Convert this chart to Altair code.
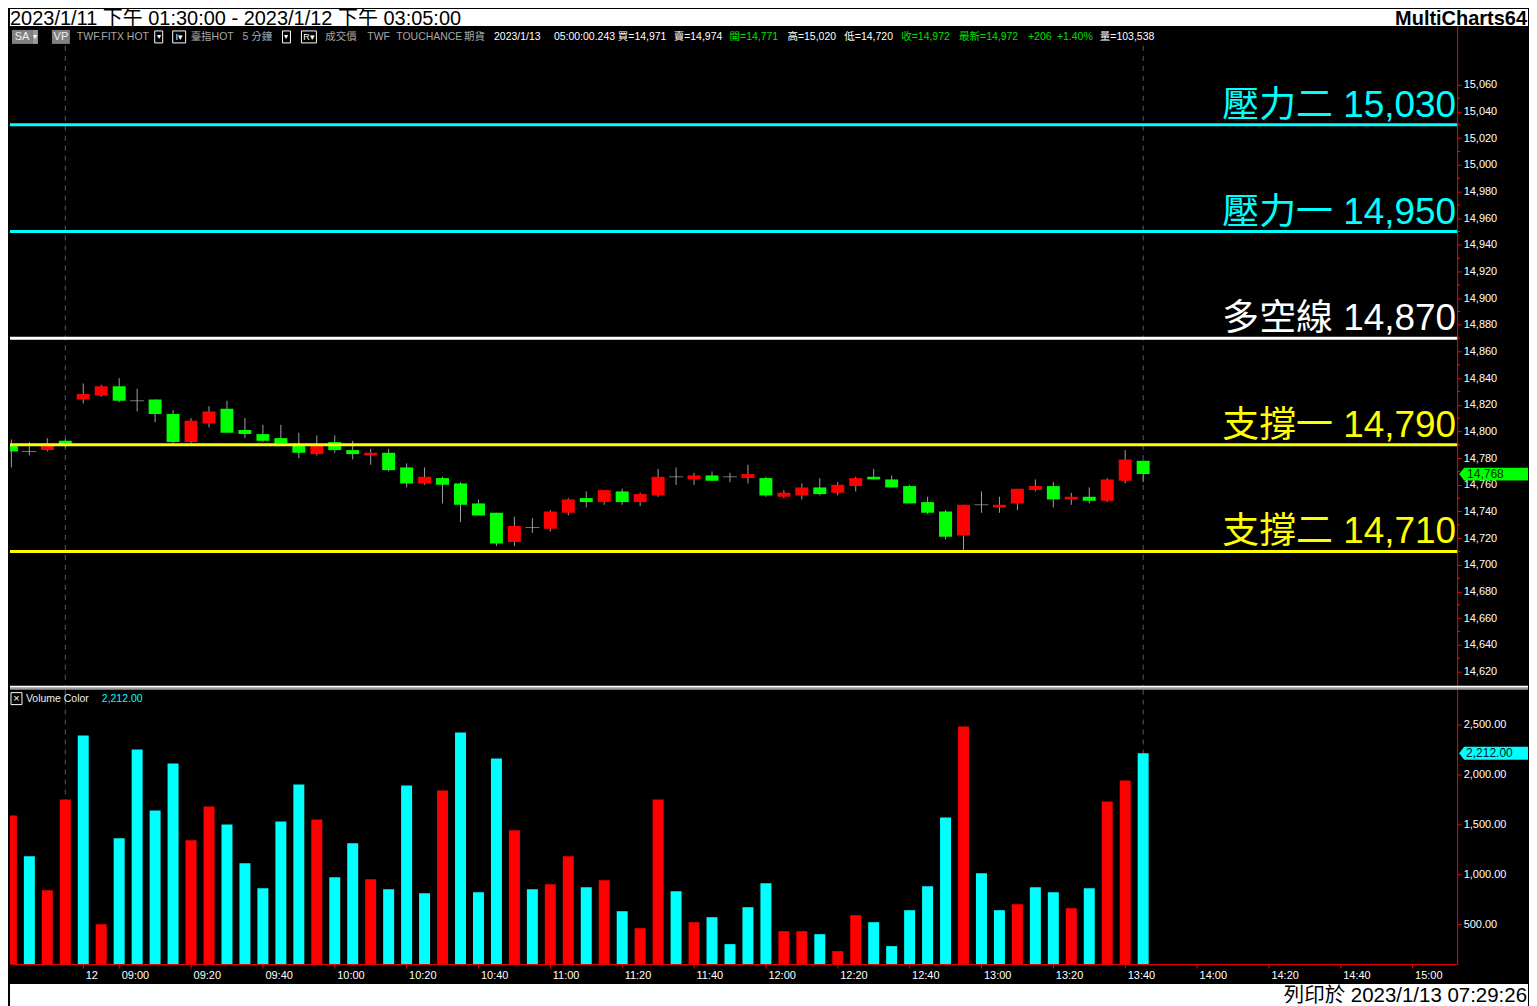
import altair as alt
import pandas as pd

# ---------------- data ----------------
opens = [14790, 14785, 14786, 14793, 14824, 14827, 14834, 14823, 14824, 14813,
         14792, 14806, 14817, 14801, 14798, 14795, 14790, 14783, 14792, 14786,
         14782, 14784, 14773, 14761, 14765, 14761, 14746, 14739, 14717, 14728,
         14727, 14739, 14750, 14747, 14755, 14747, 14752, 14766, 14764, 14767,
         14766, 14765, 14765, 14751, 14752, 14758, 14754, 14759, 14766, 14764,
         14759, 14747, 14740, 14722, 14745, 14743, 14746, 14756, 14759, 14749,
         14751, 14748, 14763, 14778]
highs = [14794, 14792, 14795, 14794, 14836, 14835, 14840, 14832, 14824, 14816,
         14810, 14819, 14823, 14810, 14805, 14805, 14799, 14797, 14797, 14793,
         14787, 14787, 14776, 14773, 14766, 14762, 14749, 14739, 14736, 14735,
         14741, 14750, 14755, 14756, 14757, 14754, 14772, 14773, 14769, 14770,
         14769, 14775, 14766, 14756, 14761, 14765, 14762, 14766, 14772, 14767,
         14760, 14751, 14741, 14745, 14755, 14751, 14757, 14764, 14762, 14754,
         14758, 14765, 14786, 14778]
lows = [14773, 14782, 14785, 14788, 14821, 14826, 14822, 14815, 14807, 14791,
        14791, 14803, 14799, 14795, 14792, 14790, 14780, 14782, 14784, 14779,
        14775, 14770, 14758, 14760, 14746, 14732, 14737, 14714, 14714, 14724,
        14725, 14737, 14743, 14745, 14745, 14744, 14751, 14760, 14760, 14763,
        14762, 14761, 14751, 14750, 14749, 14752, 14752, 14755, 14764, 14758,
        14746, 14738, 14719, 14711, 14739, 14739, 14741, 14755, 14743, 14745,
        14746, 14747, 14761, 14762]
closes = [14785, 14785, 14791, 14789, 14828, 14834, 14823, 14823, 14813, 14792,
          14808, 14815, 14799, 14798, 14793, 14791, 14784, 14790, 14786, 14783,
          14784, 14771, 14761, 14766, 14760, 14745, 14737, 14716, 14729, 14728,
          14740, 14749, 14747, 14756, 14747, 14753, 14766, 14766, 14767, 14763,
          14766, 14768, 14752, 14754, 14758, 14753, 14760, 14765, 14764, 14758,
          14746, 14739, 14721, 14745, 14745, 14745, 14757, 14759, 14749, 14751,
          14748, 14764, 14779, 14768]
volumes = [1590, 1180, 840, 1750, 2390, 500, 1360, 2250, 1640, 2110,
           1340, 1680, 1500, 1110, 860, 1530, 1900, 1550, 970, 1310,
           950, 850, 1890, 810, 1840, 2420, 820, 2160, 1440, 850,
           900, 1180, 870, 940, 630, 460, 1750, 830, 520, 570,
           300, 670, 910, 430, 430, 400, 230, 590, 520, 280,
           640, 880, 1570, 2480, 1010, 640, 700, 870, 820, 660,
           860, 1730, 1940, 2212]
vol_colors = list("RCRRCRCCCC" "RRCCCCCRCC" "RCCCRCCCRC" "RRCRCRRCRC"
                  "CCCRRCRRCC" "CCCRCCRCCR" "CRRC")
tick_idx = [4, 6, 10, 14, 18, 22, 26, 30, 34, 38, 42, 46, 50, 54, 58, 62, 66, 70, 74, 78]
tick_labels = ["12", "09:00", "09:20", "09:40", "10:00", "10:20", "10:40", "11:00",
               "11:20", "11:40", "12:00", "12:20", "12:40", "13:00", "13:20", "13:40",
               "14:00", "14:20", "14:40", "15:00"]
price_ticks = list(range(14620, 15061, 20))
price_minor = list(range(14630, 15061, 20))
vol_ticks = [500, 1000, 1500, 2000, 2500]
level_names = ["壓力二", "壓力一", "多空線", "支撐一", "支撐二"]
level_values = [15030, 14950, 14870, 14790, 14710]
level_colors = ["#00FFFF", "#00FFFF", "#FFFFFF", "#FFFF00", "#FFFF00"]
session_marks = [3, 63]
last_price = 14768
last_volume = 2212

FONT = "Liberation Sans, Noto Sans CJK TC, sans-serif"
W = 1450      # plot width
R = 1521      # right edge of the whole chart

candles = pd.DataFrame({"idx": range(len(opens)), "o": opens, "h": highs,
                        "l": lows, "c": closes})
candles["dir"] = ["up" if c > o else ("down" if c < o else "flat")
                  for o, c in zip(opens, closes)]
vol_df = pd.DataFrame({"idx": range(len(volumes)), "v": volumes, "vc": vol_colors})
lvl_df = pd.DataFrame({"name": level_names, "level": level_values})
lvl_df["label"] = [f"{n} {v:,}" for n, v in zip(level_names, level_values)]
sess_df = pd.DataFrame({"idx": session_marks})

xs = alt.Scale(domain=[-0.0778, 80.478], nice=False, zero=False, padding=0)
ps = alt.Scale(domain=[14609.3, 15104.2], nice=False, zero=False)
vs = alt.Scale(domain=[100, 2890], nice=False, zero=False)

axis_common = dict(title=None, grid=False, domainColor="#FF0000", domainWidth=1,
                   tickColor="#FF0000", tickSize=4, labelColor="#FFFFFF",
                   labelFont=FONT, labelFontSize=11, labelFlush=False,
                   labelOverlap=False)
price_axis = alt.Axis(orient="right", values=price_ticks, format=",d",
                      labelPadding=2, **axis_common)
vol_axis = alt.Axis(orient="right", values=vol_ticks, format=",.2f",
                    labelPadding=2, **axis_common)
label_expr = "".join(f"datum.value == {i} ? '{t}' : " for i, t in zip(tick_idx, tick_labels)) + "''"
x_axis = alt.Axis(orient="bottom", values=tick_idx, labelExpr=label_expr,
                  labelAlign="left", labelPadding=1, labelOffset=2, **axis_common)
X = alt.X("idx:Q", scale=xs, axis=None)
XV = alt.X("idx:Q", scale=xs, axis=x_axis)


def label(text, x, y, color, size=11, align="left", baseline="middle", weight="normal"):
    return alt.Chart(pd.DataFrame({"t": [text]})).mark_text(
        align=align, baseline=baseline, fontSize=size, fontWeight=weight,
        font=FONT, color=color).encode(x=alt.value(x), y=alt.value(y), text="t:N")


def box(x1, x2, y1, y2, fill, stroke="#000000", sw=0):
    return alt.Chart(pd.DataFrame({"a": [0]})).mark_rect(
        fill=fill, stroke=stroke, strokeWidth=sw).encode(
        x=alt.value(x1), x2=alt.value(x2), y=alt.value(y1), y2=alt.value(y2))


# value tag: arrow on the left, 69 px wide, 13 px tall
TAG = "M-1,0L-0.855,-0.188L1,-0.188L1,0.188L-0.855,0.188Z"
TAG_X, TAG_SIZE = (W + 2 + R) / 2, (R - W - 2) ** 2

# ---------------- title panel ----------------
title_panel = alt.layer(
    box(0, R, 0, 17, "#FFFFFF"),
    label("2023/1/11 下午 01:30:00 - 2023/1/12 下午 03:05:00", 0, 0, "#000000",
          size=20, baseline="top"),
    label("MultiCharts64", R - 1, 0, "#000000", size=20, align="right",
          baseline="top", weight="bold"),
).properties(width=W, height=17)

# ---------------- price panel ----------------
base = alt.Chart(candles)
sess_price = alt.Chart(sess_df).mark_rule(color="#5A5A5A", strokeDash=[5, 5]).encode(
    x=X, y=alt.value(20), y2=alt.value(661))
wick = base.mark_rule(color="#A0A0A0", strokeWidth=1, clip=True).encode(
    x=X, y=alt.Y("l:Q", scale=ps, axis=price_axis), y2="h:Q")
body = base.transform_filter("datum.dir != 'flat'").mark_bar(size=13, clip=True).encode(
    x=X, y=alt.Y("o:Q", scale=ps, axis=price_axis), y2="c:Q",
    color=alt.Color("dir:N", scale=alt.Scale(domain=["up", "down"],
                                             range=["#FF0000", "#00FF00"]), legend=None))
doji = base.transform_filter("datum.dir == 'flat'").mark_tick(
    orient="horizontal", size=14, thickness=1, color="#A0A0A0", clip=True).encode(
    x=X, y=alt.Y("c:Q", scale=ps, axis=price_axis))
lvl_color = alt.Color("name:N", scale=alt.Scale(domain=level_names, range=level_colors),
                      legend=None)
lvl_rule = alt.Chart(lvl_df).mark_rule(strokeWidth=3).encode(
    y=alt.Y("level:Q", scale=ps, axis=price_axis), x=alt.value(0), x2=alt.value(W),
    color=lvl_color)
lvl_text = alt.Chart(lvl_df).mark_text(align="right", baseline="alphabetic", dy=-8,
                                       fontSize=37, font=FONT).encode(
    y=alt.Y("level:Q", scale=ps, axis=price_axis), x=alt.value(W - 1),
    text="label:N", color=lvl_color)
minor_ticks = alt.Chart(pd.DataFrame({"m": price_minor})).mark_rule(
    color="#FF0000", strokeWidth=1).encode(
    y=alt.Y("m:Q", scale=ps, axis=price_axis), x=alt.value(W), x2=alt.value(W + 3))
price_tag = alt.Chart(pd.DataFrame({"p": [last_price]})).mark_point(
    shape=TAG, size=TAG_SIZE, filled=True, fill="#00FF00", strokeWidth=0, opacity=1).encode(
    y=alt.Y("p:Q", scale=ps, axis=price_axis), x=alt.value(TAG_X))
price_tag_text = alt.Chart(pd.DataFrame({"p": [last_price]})).mark_text(
    align="left", baseline="middle", fontSize=12, font=FONT, color="#003000").encode(
    y=alt.Y("p:Q", scale=ps, axis=price_axis), x=alt.value(W + 10),
    text=alt.Text("p:Q", format=",d"))

GRAY, WHITE, GREEN = "#A8A8A8", "#FFFFFF", "#00E000"
IY = 11
info = [
    box(2, 23, 4, 18, "#808080"), label("SA", 12, IY, "#F0F0F0", align="center"),
    box(23, 28, 4, 18, "#9A9A9A"), label("▾", 25.5, IY, "#FFFFFF", size=8, align="center"),
    box(42, 60, 4, 18, "#808080"), label("VP", 51, IY, "#F0F0F0", align="center"),
    label("TWF.FITX HOT", 67, IY, GRAY, size=10.5),
    box(145, 153, 5, 17, "#000000", "#FFFFFF", 1), label("▾", 149, IY, WHITE, size=8, align="center"),
    box(163, 176, 5, 17, "#000000", "#FFFFFF", 1), label("I▾", 169.5, IY, WHITE, size=9, align="center"),
    label("臺指HOT", 181, IY, GRAY, size=10.5), label("5 分鐘", 233, IY, GRAY, size=10.5),
    box(273, 281, 5, 17, "#000000", "#FFFFFF", 1), label("▾", 277, IY, WHITE, size=8, align="center"),
    box(292, 307, 5, 17, "#000000", "#FFFFFF", 1), label("R▾", 299.5, IY, WHITE, size=9, align="center"),
    label("成交價", 316, IY, GRAY, size=10.5), label("TWF", 358, IY, GRAY, size=10.5),
    label("TOUCHANCE", 387, IY, GRAY, size=10.5), label("期貨", 455, IY, GRAY, size=10.5),
    label("2023/1/13", 485, IY, WHITE, size=10.5), label("05:00:00.243", 545, IY, WHITE, size=10.5),
    label("買=14,971", 609, IY, WHITE, size=10.5), label("賣=14,974", 665, IY, WHITE, size=10.5),
    label("開=14,771", 721, IY, GREEN, size=10.5), label("高=15,020", 779, IY, WHITE, size=10.5),
    label("低=14,720", 836, IY, WHITE, size=10.5), label("收=14,972", 893, IY, GREEN, size=10.5),
    label("最新=14,972", 951, IY, GREEN, size=10.5), label("+206", 1020, IY, GREEN, size=10.5),
    label("+1.40%", 1049, IY, GREEN, size=10.5), label("量=103,538", 1092, IY, WHITE, size=10.5),
]

price_panel = alt.layer(
    sess_price, wick, body, doji, lvl_rule, lvl_text, minor_ticks, price_tag,
    price_tag_text, *info
).resolve_scale(color="independent").properties(width=W, height=661)

# ---------------- volume panel ----------------
sep1 = alt.Chart(pd.DataFrame({"a": [0]})).mark_rule(color="#FFFFFF", strokeWidth=2).encode(
    x=alt.value(0), x2=alt.value(R), y=alt.value(1))
sep2 = alt.Chart(pd.DataFrame({"a": [0]})).mark_rule(color="#9A9A9A", strokeWidth=2).encode(
    x=alt.value(0), x2=alt.value(R), y=alt.value(3))
sess_vol = alt.Chart(sess_df).mark_rule(color="#5A5A5A", strokeDash=[5, 5]).encode(
    x=XV, y=alt.value(4), y2=alt.value(279))
vol_bars = alt.Chart(vol_df).mark_bar(size=11, clip=True).encode(
    x=XV,
    y=alt.Y("v:Q", scale=vs, axis=vol_axis),
    color=alt.Color("vc:N", scale=alt.Scale(domain=["R", "C"], range=["#FF0000", "#00FFFF"]),
                    legend=None))
vol_tag = alt.Chart(pd.DataFrame({"v": [last_volume]})).mark_point(
    shape=TAG, size=TAG_SIZE, filled=True, fill="#00FFFF", strokeWidth=0, opacity=1).encode(
    y=alt.Y("v:Q", scale=vs, axis=vol_axis), x=alt.value(TAG_X))
vol_tag_text = alt.Chart(pd.DataFrame({"v": [last_volume]})).mark_text(
    align="left", baseline="middle", fontSize=12, font=FONT, color="#002020").encode(
    y=alt.Y("v:Q", scale=vs, axis=vol_axis), x=alt.value(W + 9),
    text=alt.Text("v:Q", format=",.2f"))
vol_legend = [
    box(1, 12, 7, 19, "#000000", "#FFFFFF", 1),
    label("×", 6.5, 13, WHITE, size=11, align="center"),
    label("Volume Color", 16, 13, "#F0F0F0", size=10.5),
    label(f"{last_volume:,.2f}", 92, 13, "#00FFFF", size=10.5),
]
footer = [
    box(0, R, 299, 321, "#FFFFFF"),
    label("列印於 2023/1/13 07:29:26", R - 1, 317, "#000000", size=20.5, align="right",
          baseline="alphabetic"),
]

vol_panel = alt.layer(
    sess_vol, vol_bars, sep1, sep2, vol_tag, vol_tag_text, *vol_legend, *footer
).properties(width=W, height=279)

chart = alt.vconcat(title_panel, price_panel, vol_panel, spacing=0, bounds="flush").resolve_scale(
    x="independent", y="independent", color="independent"
).properties(background="#000000", padding=0).configure_view(strokeWidth=0)

chart.save("out.html", embed_options={"renderer": "svg", "actions": False})
